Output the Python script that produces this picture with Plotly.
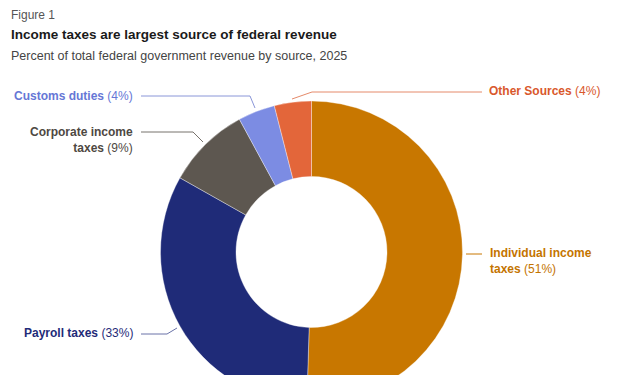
import plotly.graph_objects as go

# ---- data ----
labels = ["Individual income taxes", "Payroll taxes", "Corporate income taxes",
          "Customs duties", "Other Sources"]
values = [51, 33, 9, 4, 4]
colors = ["#C87700", "#1F2B78", "#5D5750", "#7C8CE3", "#E3663A"]
label_colors = ["#C47400", "#1F2B78", "#4E4842", "#6677D6", "#D9582C"]

W, H = 623, 410
FONT = "Liberation Sans"

def px(x):
    return x / W

def py(y):
    return 1 - y / H

# donut geometry (pixels)
cx, top, r = 311.5, 101, 151

fig = go.Figure(go.Pie(
    labels=labels, values=values, sort=False, direction="clockwise",
    rotation=0, hole=0.5, textinfo="none",
    marker=dict(colors=colors, line=dict(color="rgba(255,255,255,0.6)", width=0.6)),
    domain=dict(x=[0, 1], y=[py(top + 2 * r), py(top)]),
    showlegend=False,
))

anns = []
anns.append(dict(x=px(9), y=py(15), text="Figure 1", xanchor="left", yanchor="middle",
                 font=dict(size=12, color="#555555", family=FONT)))
anns.append(dict(x=px(9), y=py(35), text="<b>Income taxes are largest source of federal revenue</b>",
                 xanchor="left", yanchor="middle", font=dict(size=13.5, color="#1a1a1a", family=FONT)))
anns.append(dict(x=px(9), y=py(56), text="Percent of total federal government revenue by source, 2025",
                 xanchor="left", yanchor="middle", font=dict(size=12.5, color="#444444", family=FONT)))

def lab(i, pct_txt, x, y, anchor, br=False):
    name = labels[i]
    if br:
        k = name.index("income") + len("income")
        a, b = name[:k], name[k:].strip()
        name_html = f"<b>{a}</b><br><b>{b}</b>"
    else:
        name_html = f"<b>{name}</b>"
    txt = f"{name_html} ({pct_txt}%)"
    anns.append(dict(x=px(x), y=py(y), text=txt, xanchor=anchor, yanchor="middle",
                     align=anchor, showarrow=False,
                     font=dict(size=12, color=label_colors[i], family=FONT)))

lab(0, values[0], 488, 261, "left", br=True)
lab(1, values[1], 135, 333, "right")
lab(2, values[2], 135, 140, "right", br=True)
lab(3, values[3], 135, 96, "right")
lab(4, values[4], 487, 91, "left")
for a in anns:
    a.setdefault("showarrow", False)
    a["xref"] = "paper"
    a["yref"] = "paper"

line_cols = ["#C87700", "#6A73A8", "#77726C", "#8A96D8", "#E58A6A"]
paths = [
    [(466, 254), (482, 254)],
    [(141, 334), (167, 334), (177, 328)],
    [(141, 132), (193, 132), (203, 142)],
    [(141, 96), (250, 96), (255, 108)],
    [(292, 99), (312, 92), (482, 92)],
]
shapes = []
for pts, c in zip(paths, line_cols):
    d = "M " + " L ".join(f"{px(x)},{py(y)}" for x, y in pts)
    shapes.append(dict(type="path", path=d, xref="paper", yref="paper",
                       line=dict(color=c, width=1)))

fig.update_layout(
    width=W, height=H, margin=dict(l=0, r=0, t=0, b=0),
    paper_bgcolor="white", plot_bgcolor="white",
    annotations=anns, shapes=shapes,
    font=dict(family=FONT),
)

fig.write_html("out.html", config={"displayModeBar": False},
               post_script="document.body.style.margin='0';document.body.style.overflow='hidden';document.documentElement.style.overflow='hidden';")
